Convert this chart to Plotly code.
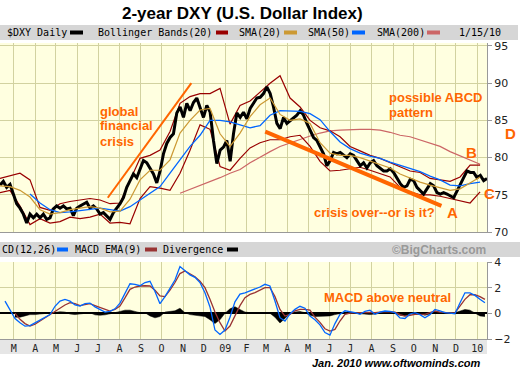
import plotly.graph_objects as go
import pandas as pd

# ---------------- data ----------------
price = [
    76.3, 76.8, 76.0, 76.4, 75.1, 73.8, 73.2, 72.4, 71.2, 72.4,
    71.9, 72.4, 71.9, 72.4, 71.7, 71.9, 73.1, 73.5, 73.2, 73.5,
    73.1, 73.2, 72.2, 73.2, 73.5, 73.8, 74.0, 73.2, 73.5, 73.1,
    72.4, 72.6, 72.2, 71.7, 72.6, 73.2, 73.8, 74.6, 76.0, 76.9,
    77.8, 77.3, 78.6, 79.6, 79.3, 78.6, 77.8, 76.6, 78.2, 80.5,
    81.9, 82.7, 83.2, 86.0, 86.8, 85.4, 87.3, 86.3, 87.4, 88.0,
    86.8, 85.4, 87.0, 86.1, 82.3, 79.2, 81.0, 81.4, 82.3, 79.5,
    83.2, 86.0, 85.4, 86.1, 85.2, 86.6, 87.3, 88.0,
    88.1, 88.6, 89.5, 88.6, 86.8, 84.6, 83.9, 85.4, 84.6, 85.0,
    85.4, 85.7, 86.3, 85.7, 84.6, 83.6, 82.7, 82.3, 81.4, 80.5,
    78.9, 79.6, 80.7, 80.5, 80.7, 80.3, 80.0, 80.5, 80.3, 79.6,
    78.9, 79.3, 78.6, 79.3, 79.6, 78.9, 78.5, 78.2, 78.2, 78.5,
    78.0, 77.3, 76.5, 76.0, 76.2, 77.1, 76.9, 76.0, 75.5, 75.1,
    75.8, 76.5, 76.2, 75.3, 75.1, 75.3, 75.1, 74.9, 74.6, 75.5,
    76.5, 77.3, 78.2, 78.0, 78.0, 77.3, 77.6, 76.9, 77.2,
]
price_dates = pd.date_range("2008-02-10", "2010-01-15", periods=len(price))

ind_dates = pd.date_range("2008-02-10", "2010-01-05", periods=49)
bb_upper = [
    77.2, 77.5, 77.9, 77.0, 73.3, 72.9, 73.8, 74.1, 74.3, 74.5,
    74.3, 73.8, 73.9, 77.0, 79.9, 80.3, 81.0, 83.5, 87.3, 88.2,
    88.6, 88.6, 89.3, 84.5, 87.0, 87.6, 88.8, 90.0, 91.0, 88.0,
    86.8, 85.0, 84.0, 83.6, 82.8, 81.5, 80.9, 80.3, 79.9, 79.3,
    78.8, 78.2, 78.0, 77.2, 77.0, 76.8, 77.4, 79.0, 79.0,
]
bb_lower = [
    75.3, 75.6, 73.5, 71.0, 71.8, 71.2, 71.4, 72.0, 71.8, 72.0,
    72.4, 71.2, 71.3, 71.1, 74.5, 76.1, 75.9, 75.6, 77.9, 81.0,
    84.4, 83.8, 78.8, 78.3, 79.9, 81.3, 82.0, 82.4, 82.4, 82.8,
    83.0, 81.5, 79.5, 78.2, 78.3, 78.5, 78.7, 78.3, 77.8, 77.4,
    76.0, 75.4, 75.0, 75.0, 74.8, 74.5, 74.2, 73.9, 75.4,
]
sma20 = [
    76.2, 76.1, 75.6, 74.7, 73.0, 72.4, 72.6, 73.0, 73.2, 73.4,
    73.2, 72.7, 72.8, 74.4, 77.0, 78.3, 78.3, 79.7, 83.3, 85.0,
    86.4, 86.6, 83.2, 81.5, 83.3, 85.5, 87.1, 88.0, 85.8, 85.0,
    85.2, 84.6, 82.0, 80.6, 80.3, 80.3, 80.0, 79.5, 79.0, 78.6,
    77.8, 77.2, 76.7, 76.3, 75.9, 75.6, 75.8, 76.6, 77.4,
]
sma50 = [
    None, None, None, 75.1, 73.9, 73.0, 72.6, 72.7, 72.9, 73.1,
    73.2, 73.0, 72.8, 73.4, 74.3, 75.2, 76.1, 77.9, 79.7, 81.5,
    83.0, 85.0, 85.0, 84.8, 84.4, 84.0, 84.3, 85.7, 86.3, 86.3,
    86.2, 85.9, 85.1, 83.5, 82.1, 81.2, 80.6, 80.2, 79.9, 79.4,
    79.0, 78.5, 78.1, 77.5, 77.0, 76.3, 76.2, 76.5, 76.7,
]
sma200 = [None] * 18 + [
    75.2, 75.7, 76.2, 76.8, 77.3, 77.9, 78.4, 79.3, 80.1, 80.8,
    81.5, 82.0, 82.4, 82.9, 83.3, 83.6, 83.7, 83.8, 83.8, 83.8,
    83.7, 83.4, 83.0, 82.8, 82.4, 82.0, 81.5, 80.8, 80.2, 79.6, 79.1,
]

macd_dates = pd.date_range("2008-02-10", "2010-01-12", periods=98)
macd = [
    None, 0.95, 0.3, -0.4, -0.73, -1.0, -0.95, -0.75, -0.55, -0.3,
    -0.1, 0.55, 0.95, 1.08, 0.95, 0.65, 0.57, 0.75, 0.8, 0.5,
    0.31, 0.1, 0.15, 0.35, 0.8, 1.6, 2.3, 2.25, 2.15, 2.4,
    2.5, 1.7, 0.75, 1.3, 1.9, 2.6, 3.65, 3.3, 3.0, 2.8,
    2.4, 1.6, 0.5, -1.3, -1.64, -1.3, -0.3, 0.9, 1.5, 1.6,
    1.74, 1.87, 2.05, 2.26, 2.13, 0.96, -0.34, -0.6, -0.05, 0.31,
    0.55, 0.4, -0.21, -0.5, -0.9, -1.5, -1.7, -0.8, -0.08, 0.2,
    0.15, 0.05, -0.08, 0.15, 0.25, -0.08, 0.1, 0.18, 0.15, 0.05,
    -0.35, -0.4, -0.05, 0.05, -0.1, -0.34, -0.1, 0.31, 0.2, 0.05,
    0.02, -0.03, 0.8, 1.6, 1.6, 1.4, 1.1, 0.83,
]
macd_signal = [
    None, None, None, 0.0, -0.47, -0.8, -0.99, -0.85, -0.6, -0.35,
    -0.08, 0.2, 0.44, 0.65, 0.83, 0.75, 0.6, 0.68, 0.75, 0.6,
    0.44, 0.3, 0.18, 0.3, 0.57, 1.2, 1.87, 2.05, 2.13, 2.15,
    2.13, 1.8, 1.35, 1.3, 1.8, 2.4, 3.1, 3.3, 3.1, 2.85,
    2.5, 2.0, 1.1, 0.1, -0.73, -1.38, -0.99, -0.2, 0.6, 1.22,
    1.48, 1.61, 1.8, 2.0, 2.0, 1.3, 0.3, -0.21, -0.08, 0.2,
    0.31, 0.31, 0.25, -0.3, -0.7, -1.2, -1.38, -1.25, -0.6, -0.08,
    0.02, 0.05, 0.05, 0.05, 0.08, 0.05, 0.1, 0.13, 0.12, 0.1,
    -0.1, -0.21, -0.15, -0.08, -0.08, -0.08, 0.05, 0.18, 0.1, 0.05,
    0.03, 0.03, 0.6, 1.09, 1.45, 1.45, 1.3, 1.09,
]
divergence = [
    None, None, None, -0.3, -0.3, -0.2, -0.1, -0.1, -0.05, 0.0,
    0.0, 0.1, 0.12, 0.1, -0.05, -0.1, -0.05, 0.0, 0.05, -0.12,
    -0.15, -0.12, -0.05, 0.05, 0.15, 0.25, 0.25, 0.15, 0.05, 0.05,
    -0.2, -0.35, -0.25, 0.1, 0.15, 0.2, 0.4, 0.05, -0.1, -0.15,
    -0.15, -0.25, -0.5, -0.8, -0.5, 0.0, 0.35, 0.52, 0.3, 0.1,
    0.05, 0.05, 0.05, 0.05, 0.0, -0.3, -0.75, -0.4, 0.0, 0.1,
    0.15, 0.05, -0.15, -0.25, -0.25, -0.2, -0.2, -0.1, 0.0, 0.05,
    0.05, 0.0, -0.05, -0.1, -0.1, -0.05, 0.0, 0.05, 0.03, 0.0,
    -0.15, -0.2, -0.05, 0.05, -0.05, -0.15, -0.05, 0.1, 0.05, 0.0,
    0.0, 0.05, 0.2, 0.3, 0.25, 0.05, -0.2, -0.25,
]

month_ticks = pd.date_range("2008-03-01", "2010-01-01", freq="MS")
month_labels = ["M", "A", "M", "J", "J", "A", "S", "O", "N", "D", "09", "F",
                "M", "A", "M", "J", "J", "A", "S", "O", "N", "D", "10"]
price_ticks = [70, 75, 80, 85, 90, 95]
macd_ticks = [-2, 0, 2, 4]

crisis_line_x = ["2008-07-15", "2008-11-13"]
crisis_line_y = [74.6, 90.0]
decline_line_x = ["2009-02-28", "2009-11-10"]
decline_line_y = [83.5, 73.5]

# ---------------- layout helpers ----------------
PLOT_W = 487
TOP, BOT = 43, 339
H = BOT - TOP


def px(x):
    return x / PLOT_W


def py(y):
    return (BOT - y) / H


ORANGE = "#ff6600"
MONO = "DejaVu Sans Mono"
SANS = "Liberation Sans, Arial"
GRID = "#d2d2a0"

fig = go.Figure()

# main panel
fig.add_trace(go.Scatter(x=ind_dates, y=sma200, mode="lines",
                         line=dict(color="#cc6666", width=1.2), connectgaps=False))
fig.add_trace(go.Scatter(x=ind_dates, y=bb_upper, mode="lines",
                         line=dict(color="#990000", width=1.2)))
fig.add_trace(go.Scatter(x=ind_dates, y=bb_lower, mode="lines",
                         line=dict(color="#990000", width=1.2)))
fig.add_trace(go.Scatter(x=price_dates, y=price, mode="lines",
                         line=dict(color="black", width=3)))
fig.add_trace(go.Scatter(x=ind_dates, y=sma50, mode="lines",
                         line=dict(color="#0066ff", width=1.3)))
fig.add_trace(go.Scatter(x=ind_dates, y=sma20, mode="lines",
                         line=dict(color="#cc9933", width=1.2)))

# MACD panel
fig.add_trace(go.Scatter(x=macd_dates, y=divergence, mode="lines", fill="tozeroy",
                         fillcolor="black", line=dict(color="black", width=0.5),
                         xaxis="x2", yaxis="y2"))
fig.add_trace(go.Scatter(x=macd_dates, y=macd_signal, mode="lines",
                         line=dict(color="#993333", width=1.3), xaxis="x2", yaxis="y2"))
fig.add_trace(go.Scatter(x=macd_dates, y=macd, mode="lines",
                         line=dict(color="#0066ff", width=1.3), xaxis="x2", yaxis="y2"))

xr = ["2008-02-10", "2010-01-15"]
xcommon = dict(range=xr, tickmode="array", tickvals=month_ticks, showgrid=True,
               gridcolor=GRID, gridwidth=1, ticks="", showline=True,
               linecolor="#999999", zeroline=False, fixedrange=True)
ycommon = dict(side="right", showgrid=True, gridcolor=GRID, gridwidth=1,
               ticks="outside", ticklen=4, tickcolor="#999999", showline=True,
               linecolor="#999999", tickfont=dict(family="DejaVu Sans", size=11, color="#222"))

shapes = []
annotations = []


def rect(x0, x1, y0, y1, color):
    shapes.append(dict(type="rect", xref="paper", yref="paper", x0=px(x0), x1=px(x1),
                       y0=py(y1), y1=py(y0), fillcolor=color, line=dict(width=0),
                       layer="below"))


def swatch(x0, x1, yc, color):
    shapes.append(dict(type="rect", xref="paper", yref="paper", x0=px(x0), x1=px(x1),
                       y0=py(yc + 2), y1=py(yc - 2), fillcolor=color, line=dict(width=0),
                       layer="above"))


def text(t, x, y, size, color="black", family=SANS, xanchor="left"):
    annotations.append(dict(text=t, xref="paper", yref="paper", x=px(x), y=py(y),
                            xanchor=xanchor, yanchor="middle", showarrow=False,
                            font=dict(family=family, size=size, color=color)))


# grey bars
rect(0, 518, 25, 40, "#d6d6d6")
rect(0, 520, 242, 257, "#d6d6d6")
rect(0, 487, 340, 354, "#e6e6e6")

# title
text("<b>2-year DXY (U.S. Dollar Index)</b>", 242, 13, 17, xanchor="center")

# main legend bar
ly = 32.5
text("$DXY Daily", 5, ly, 10, family=MONO)
swatch(70, 83, ly, "black")
text("Bollinger Bands(20)", 96, ly, 10, family=MONO)
swatch(216, 228, ly, "#990000")
text("SMA(20)", 237, ly, 10, family=MONO)
swatch(284, 297, ly, "#cc9933")
text("SMA(50)", 306, ly, 10, family=MONO)
swatch(352, 365, ly, "#0066ff")
text("SMA(200)", 375, ly, 10, family=MONO)
swatch(427, 440, ly, "#cc6666")
text("1/15/10", 457, ly, 10, family=MONO)

# macd legend bar (the left part of "MACD(12,26)" is cropped in the reference)
my = 249.5
text("CD(12,26)", 0, my, 10, family=MONO)
swatch(57, 68, my, "#0066ff")
text("MACD EMA(9)", 73, my, 10, family=MONO)
swatch(145, 157, my, "#993333")
text("Divergence", 161, my, 10, family=MONO)
swatch(227, 238, my, "black")
text("<b>©BigCharts.com</b>", 488, my, 12, color="#999999", xanchor="right")

# orange commentary
text("<b>global</b>", 98, 111, 13, ORANGE)
text("<b>financial</b>", 98, 126, 13, ORANGE)
text("<b>crisis</b>", 98, 141.5, 13, ORANGE)
text("<b>crisis over--or is it?</b>", 312, 212, 13, ORANGE)
text("<b>possible ABCD</b>", 387, 97.7, 13, ORANGE)
text("<b>pattern</b>", 387, 112.7, 13, ORANGE)
text("<b>A</b>", 452.5, 212.5, 15, ORANGE, xanchor="center")
text("<b>B</b>", 471, 152.5, 15, ORANGE, xanchor="center")
text("<b>C</b>", 489, 193.5, 15, ORANGE, xanchor="center")
text("<b>D</b>", 510, 133, 15, ORANGE, xanchor="center")
text("<b>MACD above neutral</b>", 322, 297, 13, ORANGE)

# footer
text("<b><i>Jan. 2010 www.oftwominds.com</i></b>", 310, 363, 11)

# trend lines
shapes.append(dict(type="line", xref="x", yref="y", x0=crisis_line_x[0], x1=crisis_line_x[1],
                   y0=crisis_line_y[0], y1=crisis_line_y[1], line=dict(color=ORANGE, width=2)))
shapes.append(dict(type="line", xref="x", yref="y", x0=decline_line_x[0], x1=decline_line_x[1],
                   y0=decline_line_y[0], y1=decline_line_y[1], line=dict(color=ORANGE, width=4)))

fig.update_layout(
    width=520, height=373,
    margin=dict(l=0, r=520 - PLOT_W, t=TOP, b=373 - BOT),
    paper_bgcolor="white", plot_bgcolor="#ffffe0",
    showlegend=False, hovermode=False,
    xaxis=dict(domain=[0, 1], anchor="y", showticklabels=False, **xcommon),
    xaxis2=dict(domain=[0, 1], anchor="y2", matches="x", ticktext=month_labels,
                showticklabels=True, tickfont=dict(family=MONO, size=10, color="#222"),
                **xcommon),
    yaxis=dict(domain=[py(232), 1], range=[70, 95.4], tickvals=price_ticks,
               zeroline=False, anchor="x", **ycommon),
    yaxis2=dict(domain=[0, py(262)], range=[-2, 4], tickvals=macd_ticks,
                zeroline=True, zerolinecolor="black", zerolinewidth=2, anchor="x2",
                **ycommon),
    shapes=shapes,
    annotations=annotations,
)

fig.write_html("out.html", config={"displayModeBar": False},
               post_script="document.body.style.margin='0';document.body.style.overflow='hidden';")
